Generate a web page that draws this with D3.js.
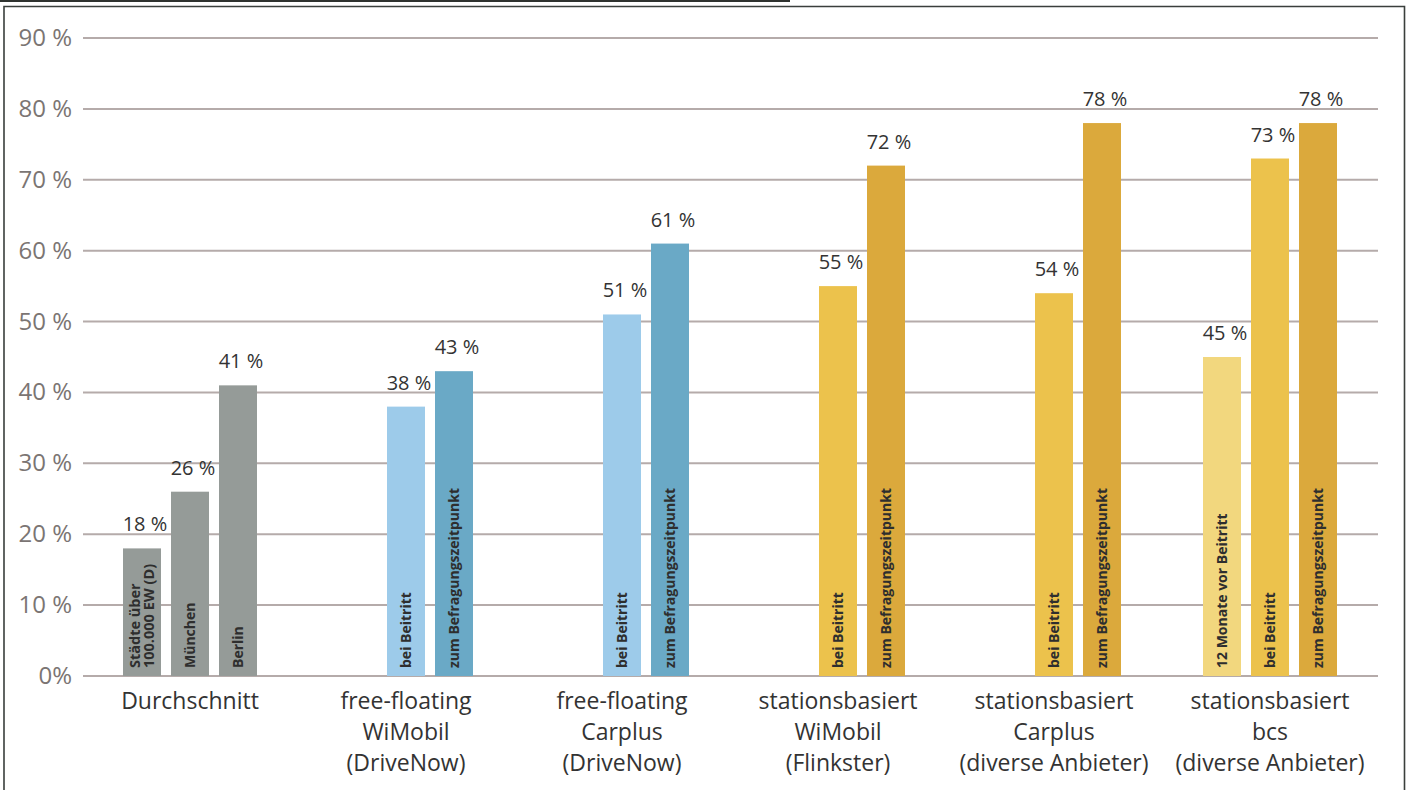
<!DOCTYPE html>
<html>
<head>
<meta charset="utf-8">
<script src="https://cdn.jsdelivr.net/npm/d3@7"></script>
<style>
  html, body { margin: 0; padding: 0; background: #fff; }
  svg { display: block; }
  text { font-family: "Open Sans", "Noto Sans", sans-serif; }
</style>
</head>
<body>
<svg id="chart" width="1408" height="790"></svg>
<script>
// ---- data ----
const groups = [
  ["Durchschnitt"],
  ["free-floating", "WiMobil", "(DriveNow)"],
  ["free-floating", "Carplus", "(DriveNow)"],
  ["stationsbasiert", "WiMobil", "(Flinkster)"],
  ["stationsbasiert", "Carplus", "(diverse Anbieter)"],
  ["stationsbasiert", "bcs", "(diverse Anbieter)"]
];
const slot1Values = [18, null, null, null, null, 45];
const slot2Values = [26, 38, 51, 55, 54, 73];
const slot3Values = [41, 43, 61, 72, 78, 78];
const slot1Labels = [["Städte über", "100.000 EW (D)"], null, null, null, null, ["12 Monate vor Beitritt"]];
const slot2Labels = [["München"], ["bei Beitritt"], ["bei Beitritt"], ["bei Beitritt"], ["bei Beitritt"], ["bei Beitritt"]];
const slot3Labels = [["Berlin"], ["zum Befragungszeitpunkt"], ["zum Befragungszeitpunkt"], ["zum Befragungszeitpunkt"], ["zum Befragungszeitpunkt"], ["zum Befragungszeitpunkt"]];
const yTicks = [0, 10, 20, 30, 40, 50, 60, 70, 80, 90];
const yTickLabels = ["0%", "10 %", "20 %", "30 %", "40 %", "50 %", "60 %", "70 %", "80 %", "90 %"];

// ---- colours ----
const grayC = "#959b98";
const colors = [
  [grayC, grayC, grayC],
  [null, "#9dcbea", "#6aa9c6"],
  [null, "#9dcbea", "#6aa9c6"],
  [null, "#ecc24c", "#dba93c"],
  [null, "#ecc24c", "#dba93c"],
  ["#f2d77e", "#ecc24c", "#dba93c"]
];

const svg = d3.select("#chart");

// frame
svg.append("line").attr("x1", 0).attr("x2", 790).attr("y1", 1).attr("y2", 1)
  .attr("stroke", "#2f3330").attr("stroke-width", 2);
svg.append("path").attr("d", "M4,790 V6.5 H1404.5 V790")
  .attr("fill", "none").attr("stroke", "#3a3f3c").attr("stroke-width", 1.6);

// scales
const y = d3.scaleLinear().domain([0, 90]).range([676, 38]);
const gIdx = d3.range(groups.length);
const x0 = d3.scaleBand().domain(gIdx).range([123, 123 + 216 * 6]).paddingInner(0).paddingOuter(0);
const x1 = d3.scaleBand().domain([0, 1, 2]).range([0, 48 * 3 - 10]).paddingInner(10 / 48).paddingOuter(0);

// gridlines
svg.append("g").selectAll("line").data(yTicks).join("line")
  .attr("x1", 83).attr("x2", 1378)
  .attr("y1", d => y(d)).attr("y2", d => y(d))
  .attr("stroke", "#b5abaa").attr("stroke-width", 2);

// y labels
svg.append("g").selectAll("text").data(yTicks).join("text")
  .attr("x", 72).attr("y", d => y(d) + 8)
  .attr("text-anchor", "end")
  .attr("font-size", 24).attr("fill", "#7b7573")
  .text((d, i) => yTickLabels[i]);

// bars
const barData = [];
gIdx.forEach(g => {
  [slot1Values, slot2Values, slot3Values].forEach((arr, s) => {
    const v = arr[g];
    if (v == null) return;
    const lbl = [slot1Labels, slot2Labels, slot3Labels][s][g];
    barData.push({ g, s, v, lbl, color: colors[g][s] });
  });
});

const bw = x1.bandwidth();
const bx = d => x0(d.g) + x1(d.s);

svg.append("g").selectAll("rect").data(barData).join("rect")
  .attr("x", bx).attr("width", bw)
  .attr("y", d => y(d.v)).attr("height", d => y(0) - y(d.v))
  .attr("fill", d => d.color);

// value labels
svg.append("g").selectAll("text").data(barData).join("text")
  .attr("x", d => bx(d) + bw / 2 + 3).attr("y", d => y(d.v) - 17)
  .attr("text-anchor", "middle")
  .attr("font-size", 20).attr("fill", "#333")
  .text(d => d.v + " %");

// inside labels (rotated)
const inner = svg.append("g");
barData.forEach(d => {
  const n = d.lbl.length;
  d.lbl.forEach((line, li) => {
    const cx = bx(d) + bw / 2;
    const base = cx + 5 + (li - (n - 1) / 2) * 14;
    inner.append("text")
      .attr("transform", `translate(${base},${y(0) - 8}) rotate(-90)`)
      .attr("font-size", n > 1 ? 14.5 : 14).attr("font-weight", 700).attr("fill", "#2e2e2e")
      .text(line);
  });
});

// x labels (centred on the full three-slot group)
const xl = svg.append("g");
gIdx.forEach(g => {
  const cx = x0(g) + (x1.range()[1] - x1.range()[0]) / 2;
  groups[g].forEach((line, li) => {
    xl.append("text")
      .attr("x", cx).attr("y", 709 + li * 31)
      .attr("text-anchor", "middle")
      .attr("font-size", 23).attr("fill", "#333")
      .text(line);
  });
});
</script>
</body>
</html>
